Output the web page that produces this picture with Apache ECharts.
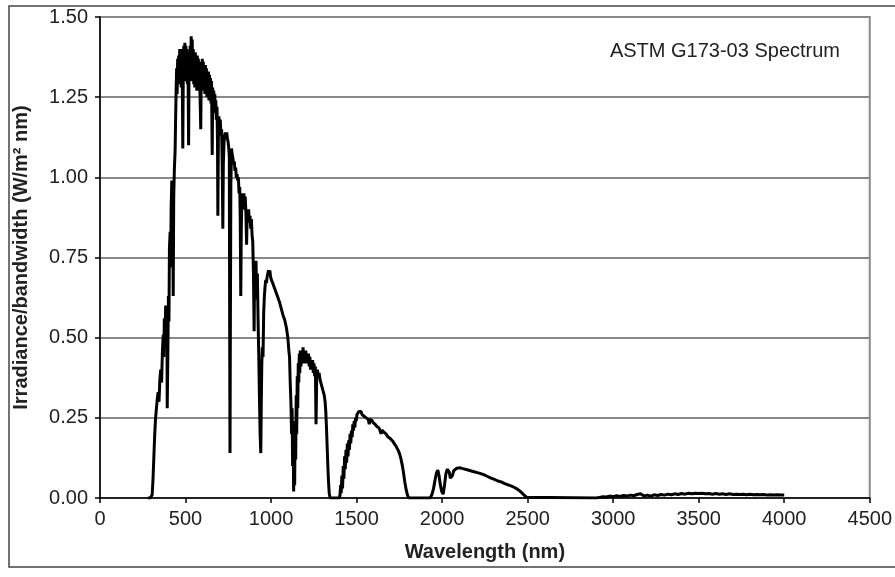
<!DOCTYPE html>
<html>
<head>
<meta charset="utf-8">
<script src="https://cdn.jsdelivr.net/npm/echarts@6/dist/echarts.min.js"></script>
<style>
  html, body { margin: 0; background: #fff; }
  #chart { width: 895px; height: 577px; }
</style>
</head>
<body>
<div id="chart"></div>
<script>
// spectrum, [wavelength nm, irradiance W/m2 nm]
const uvVisible = [
  [280, 0], [295, 0], [300, 0], [305, 0.01], [310, 0.06], [315, 0.13], [320, 0.20], [325, 0.25], [330, 0.28], [335, 0.31],
  [340, 0.33], [345, 0.30], [350, 0.37], [355, 0.40], [360, 0.36], [365, 0.46], [370, 0.51], [373, 0.44], [376, 0.56], [380, 0.50],
  [384, 0.60], [388, 0.47], [391, 0.58], [393, 0.28], [396, 0.42], [400, 0.63], [403, 0.55], [406, 0.78], [410, 0.83], [413, 0.72],
  [416, 0.91], [420, 0.99], [424, 0.95], [428, 0.63], [431, 0.94], [435, 1.03], [439, 1.08], [442, 1.18], [445, 1.27], [448, 1.34],
  [451, 1.26], [454, 1.37], [457, 1.29], [460, 1.38], [463, 1.30], [466, 1.40], [469, 1.31], [472, 1.39], [475, 1.28], [478, 1.40],
  [481, 1.32], [484, 1.09], [487, 1.34], [490, 1.41], [493, 1.30], [496, 1.42], [499, 1.33], [502, 1.41], [505, 1.31], [508, 1.40],
  [511, 1.29], [514, 1.39], [518, 1.10], [521, 1.38], [524, 1.30], [527, 1.41], [530, 1.32], [533, 1.44], [536, 1.33], [539, 1.43],
  [542, 1.30], [545, 1.40], [548, 1.29], [551, 1.39], [554, 1.28], [557, 1.39], [560, 1.30], [563, 1.38], [566, 1.27], [569, 1.38],
  [572, 1.29], [575, 1.37], [578, 1.27], [581, 1.36], [584, 1.28], [589, 1.15], [592, 1.35], [595, 1.27], [598, 1.37], [601, 1.29],
  [604, 1.36], [607, 1.27], [610, 1.35], [613, 1.26], [616, 1.35], [619, 1.27], [622, 1.34], [625, 1.25], [628, 1.33], [631, 1.26],
  [634, 1.33], [637, 1.24], [640, 1.32], [643, 1.25], [646, 1.31], [649, 1.23], [652, 1.30], [656, 1.07], [659, 1.28], [662, 1.22],
  [665, 1.27], [668, 1.21], [671, 1.26], [674, 1.20], [677, 1.24], [680, 1.18], [684, 1.22], [687, 1.10], [689, 0.88], [692, 1.12],
  [695, 1.19], [699, 1.15], [703, 1.18], [707, 1.13], [711, 1.15], [715, 1.02], [718, 0.84], [721, 1.04], [725, 1.11], [729, 1.13]
]

const nearIr1 = [
  [733, 1.14], [737, 1.12], [741, 1.14], [745, 1.12], [749, 1.11], [753, 1.09], [756, 1.06], [758, 0.55], [760, 0.14], [762, 0.50],
  [765, 0.98], [769, 1.09], [773, 1.07], [777, 1.06], [781, 1.04], [785, 1.05], [789, 1.02], [793, 1.03], [797, 1.00], [801, 1.01],
  [805, 0.99], [809, 1.00], [813, 0.95], [817, 0.97], [820, 0.86], [823, 0.63], [826, 0.84], [829, 0.92], [833, 0.95], [837, 0.90],
  [841, 0.95], [845, 0.92], [849, 0.94], [853, 0.89], [857, 0.79], [861, 0.90], [865, 0.88], [869, 0.90], [873, 0.86], [877, 0.88],
  [881, 0.84], [885, 0.87], [889, 0.82], [893, 0.80], [897, 0.70], [901, 0.52], [904, 0.74], [908, 0.66], [912, 0.74], [916, 0.62],
  [920, 0.70], [924, 0.56], [928, 0.45], [932, 0.32], [936, 0.20], [940, 0.14], [943, 0.30], [946, 0.42], [949, 0.47], [953, 0.44],
  [957, 0.58], [961, 0.63], [965, 0.66], [969, 0.68], [973, 0.67], [977, 0.69], [981, 0.70], [985, 0.71], [989, 0.70], [993, 0.71],
  [997, 0.69], [1002, 0.68], [1010, 0.67], [1020, 0.655], [1030, 0.64], [1040, 0.625], [1050, 0.61], [1060, 0.59], [1070, 0.57], [1080, 0.555],
  [1090, 0.53], [1098, 0.50], [1104, 0.46], [1108, 0.44], [1112, 0.36], [1116, 0.30], [1120, 0.20], [1123, 0.28], [1126, 0.10], [1129, 0.22],
  [1132, 0.02], [1135, 0.14], [1138, 0.04], [1141, 0.24], [1144, 0.12], [1147, 0.32], [1150, 0.20], [1153, 0.38], [1156, 0.28], [1159, 0.42],
  [1162, 0.36], [1165, 0.45], [1168, 0.39], [1171, 0.46], [1175, 0.41], [1179, 0.46], [1183, 0.42], [1187, 0.47], [1191, 0.43], [1195, 0.46],
  [1199, 0.42], [1203, 0.46], [1207, 0.43], [1211, 0.45], [1215, 0.42], [1219, 0.45], [1223, 0.41], [1227, 0.44], [1231, 0.40], [1235, 0.43],
  [1239, 0.40], [1243, 0.43], [1247, 0.39], [1251, 0.42], [1255, 0.38], [1259, 0.41], [1263, 0.23], [1267, 0.39], [1271, 0.40], [1276, 0.38],
  [1281, 0.39], [1286, 0.37], [1291, 0.37], [1296, 0.35], [1301, 0.35], [1306, 0.33], [1311, 0.32], [1316, 0.30], [1320, 0.27], [1324, 0.22],
  [1328, 0.16], [1332, 0.10], [1336, 0.05], [1340, 0.015], [1345, 0], [1400, 0]
]

const nearIr2 = [
  [1403, 0.01], [1407, 0.04], [1410, 0.015], [1414, 0.07], [1418, 0.03], [1422, 0.10], [1426, 0.06], [1430, 0.13], [1434, 0.09], [1438, 0.15],
  [1442, 0.11], [1446, 0.17], [1450, 0.13], [1454, 0.18], [1458, 0.15], [1462, 0.20], [1466, 0.17], [1470, 0.21], [1474, 0.19], [1478, 0.23],
  [1482, 0.21], [1486, 0.24], [1490, 0.22], [1494, 0.25], [1498, 0.24], [1502, 0.26], [1508, 0.255], [1514, 0.27], [1520, 0.265], [1526, 0.27],
  [1532, 0.26], [1538, 0.265], [1544, 0.255], [1550, 0.258], [1556, 0.25], [1562, 0.252], [1568, 0.245], [1574, 0.23], [1578, 0.245], [1584, 0.24],
  [1590, 0.242], [1596, 0.235], [1602, 0.236], [1608, 0.23], [1614, 0.228], [1620, 0.222], [1626, 0.224], [1632, 0.218], [1638, 0.215], [1643, 0.20],
  [1648, 0.212], [1654, 0.21], [1660, 0.205], [1666, 0.207], [1672, 0.2], [1678, 0.198], [1684, 0.19], [1690, 0.192], [1696, 0.186], [1702, 0.185],
  [1710, 0.178], [1718, 0.172], [1726, 0.165], [1734, 0.158], [1742, 0.15], [1750, 0.14], [1758, 0.125], [1766, 0.105], [1774, 0.08], [1782, 0.05],
  [1790, 0.025], [1798, 0.008], [1805, 0], [1930, 0]
]

const nearIr3 = [
  [1940, 0.01], [1950, 0.03], [1960, 0.06], [1968, 0.08], [1975, 0.087], [1982, 0.07], [1990, 0.04], [1998, 0.02], [2006, 0.012], [2014, 0.04],
  [2022, 0.075], [2030, 0.09], [2036, 0.096], [2042, 0.08], [2048, 0.062], [2054, 0.056], [2060, 0.07], [2068, 0.085], [2076, 0.09], [2086, 0.093],
  [2096, 0.095], [2106, 0.094], [2116, 0.093], [2126, 0.091], [2136, 0.09], [2146, 0.088], [2156, 0.087], [2166, 0.085], [2176, 0.083], [2186, 0.082],
  [2196, 0.08], [2206, 0.079], [2216, 0.077], [2226, 0.076], [2236, 0.073], [2246, 0.072], [2256, 0.069], [2266, 0.067], [2276, 0.066], [2286, 0.062],
  [2296, 0.061], [2306, 0.058], [2316, 0.057], [2326, 0.053], [2336, 0.054], [2346, 0.05], [2356, 0.049], [2366, 0.045], [2376, 0.046], [2386, 0.041],
  [2396, 0.042], [2406, 0.037], [2416, 0.038], [2426, 0.032], [2436, 0.035], [2442, 0.027], [2448, 0.031], [2454, 0.022], [2460, 0.026], [2466, 0.016],
  [2472, 0.019], [2478, 0.01], [2486, 0.006], [2494, 0.002], [2502, 0], [2900, 0]
]

const midIr = [
  [2920, 0.002], [2940, 0.004], [2960, 0.003], [2980, 0.006], [3000, 0.004], [3020, 0.007], [3040, 0.005], [3060, 0.008], [3080, 0.006], [3100, 0.009],
  [3120, 0.007], [3140, 0.011], [3160, 0.013], [3180, 0.006], [3200, 0.009], [3220, 0.006], [3240, 0.01], [3260, 0.008], [3280, 0.011], [3300, 0.009],
  [3320, 0.012], [3340, 0.01], [3360, 0.013], [3380, 0.011], [3400, 0.014], [3420, 0.012], [3440, 0.015], [3460, 0.013], [3480, 0.015], [3500, 0.014],
  [3520, 0.015], [3540, 0.013], [3560, 0.014], [3580, 0.012], [3600, 0.014], [3620, 0.012], [3640, 0.013], [3660, 0.011], [3680, 0.013], [3700, 0.011],
  [3720, 0.012], [3740, 0.011], [3760, 0.012], [3780, 0.01], [3800, 0.012], [3820, 0.01], [3840, 0.011], [3860, 0.01], [3880, 0.011], [3900, 0.009],
  [3920, 0.01], [3940, 0.009], [3960, 0.01], [3980, 0.009], [4000, 0.009]
]

const seriesName = "ASTM G173-03 Spectrum"
const font = "'Liberation Sans', Arial, sans-serif"

const chart = echarts.init(document.getElementById("chart"), null, { renderer: "canvas" })

chart.setOption({
  animation: false,
  backgroundColor: "#fff",
  textStyle: { fontFamily: font },
  legend: {
    data: [seriesName],
    top: 36,
    right: 50,
    itemWidth: 0,
    itemHeight: 0,
    textStyle: { fontSize: 20, color: "#222", fontFamily: font }
  },
  grid: {
    left: 100,
    right: 24,
    top: 17,
    bottom: 79,
    show: true,
    borderColor: "#888",
    borderWidth: 2
  },
  xAxis: {
    type: "value",
    min: 0,
    max: 4500,
    interval: 500,
    name: "Wavelength (nm)",
    nameLocation: "middle",
    nameGap: 44,
    nameTextStyle: { fontSize: 20, fontWeight: "bold", color: "#222", fontFamily: font },
    axisLine: { show: true, onZero: false, lineStyle: { color: "#000", width: 1.5 } },
    axisTick: { show: true, length: 5, lineStyle: { color: "#000", width: 1.5 } },
    axisLabel: {
      fontSize: 20,
      color: "#222",
      margin: 11,
      fontFamily: font,
      formatter: (v) => String(v)
    },
    splitLine: { show: false }
  },
  yAxis: {
    type: "value",
    min: 0,
    max: 1.5,
    interval: 0.25,
    name: "Irradiance/bandwidth (W/m² nm)",
    nameLocation: "middle",
    nameGap: 69,
    nameTextStyle: { fontSize: 20, fontWeight: "bold", color: "#222", fontFamily: font },
    axisLine: { show: true, lineStyle: { color: "#000", width: 1.5 } },
    axisTick: { show: true, length: 5, lineStyle: { color: "#000", width: 1.5 } },
    axisLabel: {
      fontSize: 20,
      color: "#222",
      margin: 12,
      fontFamily: font,
      formatter: (v) => v.toFixed(2)
    },
    splitLine: { show: true, lineStyle: { color: "#888", width: 2 } }
  },
  graphic: [
    {
      type: "rect",
      silent: true,
      shape: { x: 9, y: 6, width: 900, height: 561 },
      style: { fill: "none", stroke: "#444", lineWidth: 1.5 }
    }
  ],
  series: [
    {
      name: seriesName,
      type: "line",
      showSymbol: false,
      symbol: "none",
      smooth: false,
      lineStyle: { color: "#000", width: 3 },
      itemStyle: { color: "#000" },
      data: [...uvVisible, ...nearIr1, ...nearIr2, ...nearIr3, ...midIr]
    }
  ]
})
</script>
</body>
</html>
